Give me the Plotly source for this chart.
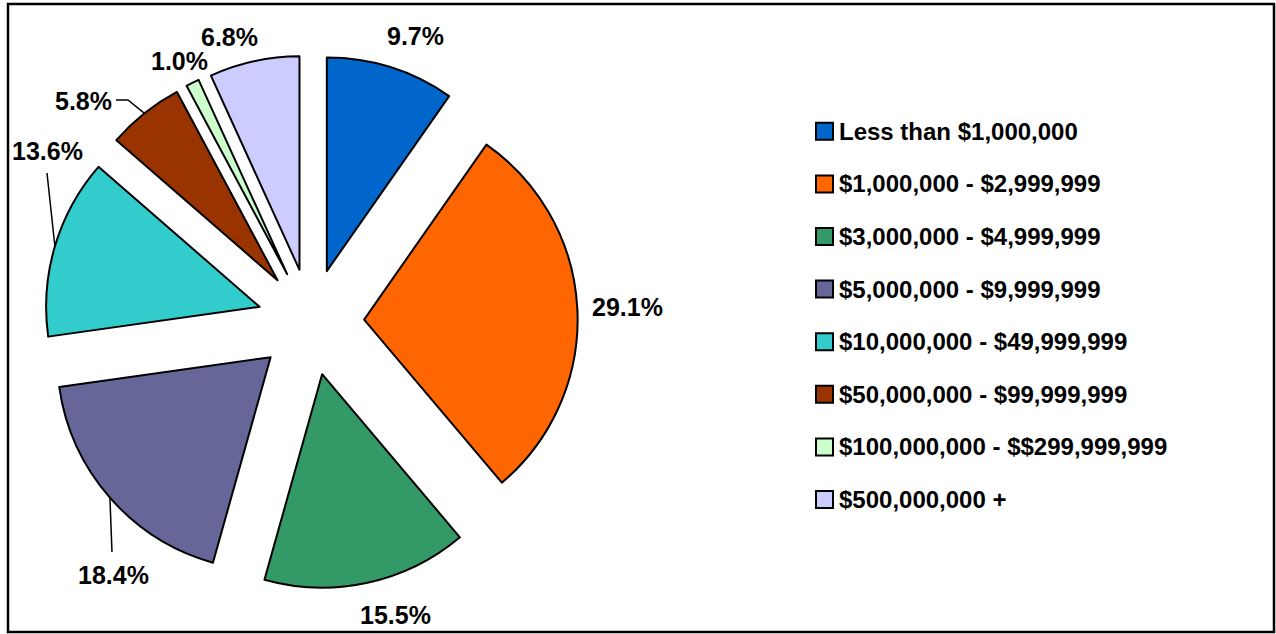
import math
import plotly.graph_objects as go

# ---- data -------------------------------------------------------------
categories = [
    "Less than $1,000,000",
    "$1,000,000 - $2,999,999",
    "$3,000,000 - $4,999,999",
    "$5,000,000 - $9,999,999",
    "$10,000,000 - $49,999,999",
    "$50,000,000 - $99,999,999",
    "$100,000,000 - $$299,999,999",
    "$500,000,000 +",
]
shares = [9.7, 29.1, 15.5, 18.4, 13.6, 5.8, 1.0, 6.8]

# ---- styling ----------------------------------------------------------
colors = ["#0066CC", "#FF6600", "#339966", "#666699",
          "#33CCCC", "#993300", "#CCFFCC", "#CCCCFF"]
FONT = "Liberation Sans, Arial, Helvetica, sans-serif"
W, H = 1276, 634

# pie geometry in pixels
CX, CY = 310.8, 322.0      # centre of the (unexploded) pie
R = 213.5                  # slice radius
PULL = 0.25                # every slice is exploded by a quarter radius
HALF = R * (1 + PULL)      # half-size of the square pie domain

# label text centres (px) for each slice, in category order
LABEL_POS = [(415, 36), (627, 307), (395, 615), (113, 575),
             (47, 151), (83, 101), (179, 61), (229, 37)]
# leader-line waypoints (px) from the label towards its slice
LEADERS = {3: [(112, 552)], 4: [(47, 173)], 5: [(116, 100), (128, 100)]}

# legend layout (px)
LEG_X, LEG_Y0, LEG_DY, LEG_BOX = 816, 131.3, 52.6, 17


def px(x):
    return x / W


def py(y):
    return 1 - y / H


fig = go.Figure(go.Pie(
    labels=categories,
    values=shares,
    sort=False,
    direction="clockwise",
    rotation=0,
    pull=[PULL] * len(shares),
    marker=dict(colors=colors, line=dict(color="black", width=2)),
    textinfo="none",
    showlegend=False,
    domain=dict(x=[px(CX - HALF), px(CX + HALF)],
                y=[py(CY + HALF), py(CY - HALF)]),
))

annotations = []
shapes = []

# percentage labels
for val, (lx, ly) in zip(shares, LABEL_POS):
    annotations.append(dict(
        x=px(lx), y=py(ly), xref="paper", yref="paper",
        text=f"{val:.1f}%", showarrow=False,
        xanchor="center", yanchor="middle",
        font=dict(family=FONT, size=25, color="black", weight="bold"),
    ))

# leader lines: label waypoint(s) -> outer arc midpoint of the exploded slice
total = sum(shares)
cum = 0.0
for i, v in enumerate(shares):
    mid = (cum + v / 2) / total * 2 * math.pi
    cum += v
    if i not in LEADERS:
        continue
    ax = CX + HALF * math.sin(mid)
    ay = CY - HALF * math.cos(mid)
    pts = LEADERS[i] + [(ax, ay)]
    path = "M " + " L ".join(f"{px(x):.5f},{py(y):.5f}" for x, y in pts)
    shapes.append(dict(type="path", path=path, xref="paper", yref="paper",
                       line=dict(color="black", width=1.5)))

# legend: coloured boxes and bold labels
for i, (name, col) in enumerate(zip(categories, colors)):
    yc = LEG_Y0 + i * LEG_DY
    shapes.append(dict(
        type="rect", xref="paper", yref="paper",
        x0=px(LEG_X), x1=px(LEG_X + LEG_BOX),
        y0=py(yc + LEG_BOX / 2), y1=py(yc - LEG_BOX / 2),
        fillcolor=col, line=dict(color="black", width=2),
    ))
    annotations.append(dict(
        x=px(LEG_X + LEG_BOX + 4), y=py(yc), xref="paper", yref="paper",
        text=name, showarrow=False, xanchor="left", yanchor="middle",
        font=dict(family=FONT, size=24, color="black", weight="bold"),
    ))

# outer frame
shapes.append(dict(type="rect", xref="paper", yref="paper",
                   x0=px(8), x1=px(1274), y0=py(632), y1=py(4),
                   line=dict(color="black", width=2.5), layer="below"))

fig.update_layout(
    width=W, height=H,
    margin=dict(l=0, r=0, t=0, b=0),
    paper_bgcolor="white",
    plot_bgcolor="white",
    annotations=annotations,
    shapes=shapes,
)

fig.write_html("out.html")
